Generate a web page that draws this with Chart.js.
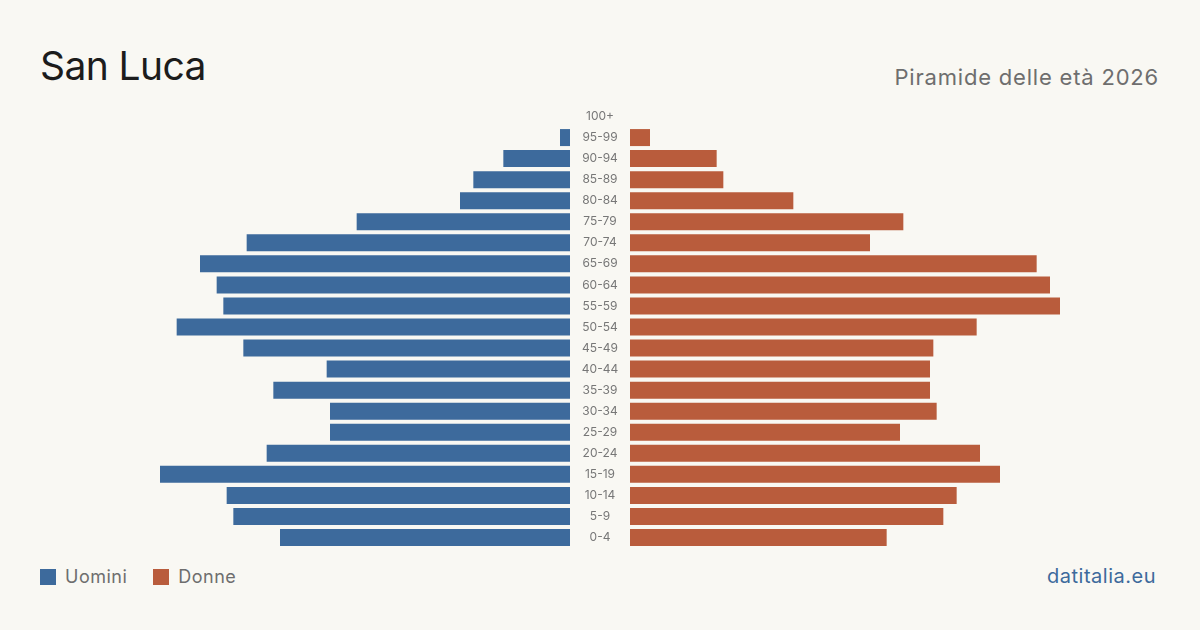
<!DOCTYPE html>
<html lang="it">
<head>
<meta charset="utf-8">
<title>San Luca - Piramide delle età 2026</title>
<script src="https://cdn.jsdelivr.net/npm/chart.js@4/dist/chart.umd.min.js"></script>
<style>
    body { margin: 0; background: #f9f8f3; font-family: Inter, "Noto Sans", sans-serif; }
    #pagina { position: relative; width: 1200px; height: 630px; overflow: hidden; background: #f9f8f3; }
    #titolo { position: absolute; left: 40px; top: 46px; font-size: 39px; color: #1c1c1c; line-height: 1; letter-spacing: -0.6px; }
    #sottotitolo { position: absolute; right: 41px; top: 66px; font-size: 22px; color: #6e6e6e; line-height: 1; letter-spacing: 0.8px; }
    #canvasUomini { position: absolute; left: 40px; top: 106px; }
    #canvasDonne { position: absolute; left: 570px; top: 106px; }
    #legenda { position: absolute; left: 40px; top: 566px; font-size: 18px; color: #6e6e6e; display: flex; align-items: center; letter-spacing: 0.5px; }
    .voce { display: flex; align-items: center; margin-right: 26px; }
    .quadrato { width: 16px; height: 16px; margin-right: 9px; }
    #fonte { position: absolute; right: 44px; top: 564px; font-size: 20px; color: #3d6a9c; letter-spacing: 0.5px; }
</style>
</head>
<body>
<div id="pagina">
    <div id="titolo">San Luca</div>
    <div id="sottotitolo">Piramide delle età 2026</div>
    <canvas id="canvasUomini" width="530" height="442"></canvas>
    <canvas id="canvasDonne" width="590" height="442"></canvas>
    <div id="legenda">
        <div class="voce"><div class="quadrato" style="background:#3d6a9c"></div>Uomini</div>
        <div class="voce"><div class="quadrato" style="background:#b95c3c"></div>Donne</div>
    </div>
    <div id="fonte">datitalia.eu</div>
</div>
<script>
const classiEta = ["100+", "95-99", "90-94", "85-89", "80-84", "75-79", "70-74", "65-69", "60-64", "55-59",
    "50-54", "45-49", "40-44", "35-39", "30-34", "25-29", "20-24", "15-19", "10-14", "5-9", "0-4"];
const uomini = [0, 3, 20, 29, 33, 64, 97, 111, 106, 104, 118, 98, 73, 89, 72, 72, 91, 123, 103, 101, 87];
const donne = [0, 6, 26, 28, 49, 82, 72, 122, 126, 129, 104, 91, 90, 90, 92, 81, 105, 111, 98, 94, 77];
const massimo = 159;

const coloreUomini = "#3d6a9c";
const coloreDonne = "#b95c3c";

function opzioniBase(invertito) {
    return {
        indexAxis: 'y',
        responsive: false,
        animation: false,
        layout: {padding: 0},
        plugins: {legend: {display: false}, tooltip: {enabled: false}},
        scales: {
            x: {min: 0, max: massimo, reverse: invertito, display: false},
            y: {display: false, offset: true}
        }
    };
}

// etichette delle classi d'età nella colonna centrale
const etichetteCentrali = {
    id: 'etichetteCentrali',
    afterDraw(chart) {
        const ctx = chart.ctx;
        const scalaY = chart.scales.y;
        ctx.save();
        ctx.fillStyle = '#777777';
        ctx.font = '12px Inter';
        ctx.textAlign = 'center';
        ctx.textBaseline = 'middle';
        classiEta.forEach((etichetta, i) => {
            ctx.fillText(etichetta, chart.chartArea.left - 30, scalaY.getPixelForTick(i));
        });
        ctx.restore();
    }
};

// lato sinistro: uomini, asse invertito
new Chart(document.getElementById('canvasUomini'), {
    type: 'bar',
    data: {
        labels: classiEta,
        datasets: [{data: uomini, backgroundColor: coloreUomini, barThickness: 17, inflateAmount: 0}]
    },
    options: opzioniBase(true)
});

// lato destro: donne
const opzioniDonne = opzioniBase(false);
opzioniDonne.layout.padding = {left: 60};
new Chart(document.getElementById('canvasDonne'), {
    type: 'bar',
    data: {
        labels: classiEta,
        datasets: [{data: donne, backgroundColor: coloreDonne, barThickness: 17, inflateAmount: 0}]
    },
    options: opzioniDonne,
    plugins: [etichetteCentrali]
});
</script>
</body>
</html>
